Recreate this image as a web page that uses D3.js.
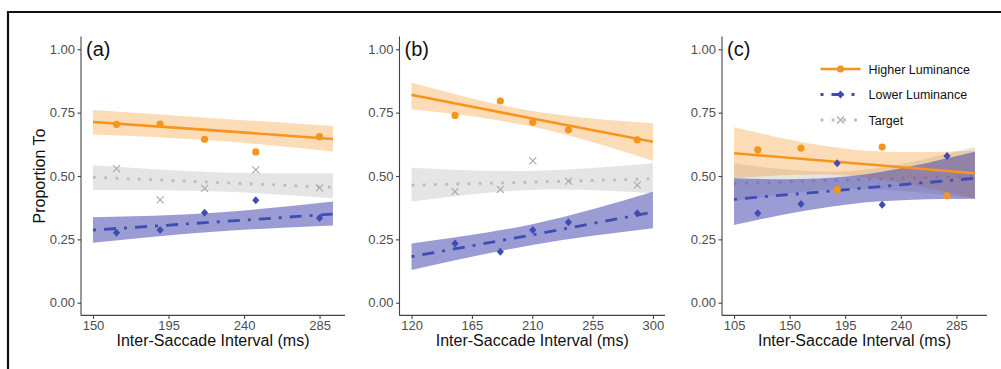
<!DOCTYPE html>
<html>
<head>
<meta charset="utf-8">
<script src="https://cdn.jsdelivr.net/npm/d3@7"></script>
<style>
  body { margin: 0; background: #fff; }
  svg { display: block; font-family: "Liberation Sans", Arial, Helvetica, sans-serif; }
</style>
</head>
<body>
<script>
//chart values
var panelLabels = ["(a)", "(b)", "(c)"];
var seriesNames = ["Higher Luminance", "Lower Luminance", "Target"];
var yTicks = [0, 0.25, 0.5, 0.75, 1];
var xTicksA = [150, 195, 240, 285],
    xTicksB = [120, 165, 210, 255, 300],
    xTicksC = [105, 150, 195, 240, 285];
var xRangeA = [150, 293],
    xRangeB = [120, 300],
    xRangeC = [105, 300];

//observed proportions
var ptsXA = [164, 190, 216.5, 247, 285];
var higherA = [0.704, 0.705, 0.645, 0.595, 0.655];
var lowerA = [0.276, 0.287, 0.355, 0.404, 0.334];
var targetA = [0.529, 0.406, 0.451, 0.524, 0.453];

var ptsXB = [152.4, 186.2, 210.4, 237, 288.3];
var higherB = [0.739, 0.796, 0.712, 0.682, 0.643];
var lowerB = [0.234, 0.201, 0.287, 0.318, 0.353];
var targetB = [0.438, 0.447, 0.560, 0.480, 0.464];

var ptsXC = [124.2, 159.2, 188.5, 224.9, 277.4];
var higherC = [0.603, 0.610, 0.447, 0.614, 0.422];
var lowerC = [0.353, 0.390, 0.550, 0.387, 0.579];
var targetC = [];

//fitted lines and confidence bands (start, middle, end)
var fitXA = [150, 222, 293];
var fitHigherA = [0.713, 0.680, 0.646], loHigherA = [0.664, 0.640, 0.597], hiHigherA = [0.760, 0.728, 0.697];
var fitLowerA = [0.287, 0.318, 0.350], loLowerA = [0.237, 0.280, 0.305], hiLowerA = [0.337, 0.355, 0.399];
var fitTargetA = [0.495, 0.475, 0.455], loTargetA = [0.445, 0.440, 0.412], hiTargetA = [0.542, 0.515, 0.511];

var fitXB = [120, 210, 300];
var fitHigherB = [0.820, 0.727, 0.635], loHigherB = [0.763, 0.695, 0.560], hiHigherB = [0.868, 0.756, 0.708];
var fitLowerB = [0.182, 0.268, 0.358], loLowerB = [0.129, 0.228, 0.294], hiLowerB = [0.234, 0.310, 0.438];
var fitTargetB = [0.464, 0.476, 0.489], loTargetB = [0.399, 0.445, 0.432], hiTargetB = [0.533, 0.520, 0.550];

var fitXC = [105, 200, 300];
var fitHigherC = [0.590, 0.551, 0.511], loHigherC = [0.490, 0.500, 0.410], hiHigherC = [0.692, 0.605, 0.600];
var fitLowerC = [0.408, 0.448, 0.491], loLowerC = [0.307, 0.390, 0.410], hiLowerC = [0.491, 0.500, 0.596];
var fitTargetC = [0.470, 0.485, 0.500], loTargetC = [0.400, 0.450, 0.410], hiTargetC = [0.550, 0.520, 0.615];

window.onload = drawChart();

function drawChart(){

    var width = 1001,
        height = 369;

    var svg = d3.select("body")
        .append("svg")
        .attr("width", width)
        .attr("height", height);

    svg.append("rect").attr("width", width).attr("height", height).attr("fill", "#fff");

    //frame lines at top and left
    svg.append("path")
        .attr("d", "M8,369V12H1001")
        .attr("fill", "none")
        .attr("stroke", "#111")
        .attr("stroke-width", 2.2);

    var colors = ["#f7941d", "#3d4db5", "#bdbdbd"],
        fills = ["#f7931e", "#3a3aaa", "#999999"],
        fillOpacity = [0.32, 0.5, 0.25],
        dashes = [null, "3,8,12,8", "2.8,8.4"],
        lineWidths = [2.6, 2.8, 2.8];

    var panels = [
        {label: panelLabels[0], left: 81, right: 345, range: xRangeA, ticks: xTicksA,
         px: ptsXA, pts: [higherA, lowerA, targetA], fx: fitXA,
         fit: [fitHigherA, fitLowerA, fitTargetA], lo: [loHigherA, loLowerA, loTargetA], hi: [hiHigherA, hiLowerA, hiTargetA]},
        {label: panelLabels[1], left: 399.5, right: 665, range: xRangeB, ticks: xTicksB,
         px: ptsXB, pts: [higherB, lowerB, targetB], fx: fitXB,
         fit: [fitHigherB, fitLowerB, fitTargetB], lo: [loHigherB, loLowerB, loTargetB], hi: [hiHigherB, hiLowerB, hiTargetB]},
        {label: panelLabels[2], left: 722, right: 987, range: xRangeC, ticks: xTicksC,
         px: ptsXC, pts: [higherC, lowerC, targetC], fx: fitXC,
         fit: [fitHigherC, fitLowerC, fitTargetC], lo: [loHigherC, loLowerC, loTargetC], hi: [hiHigherC, hiLowerC, hiTargetC]}
    ];

    var y = d3.scaleLinear().domain([-0.05, 1.05]).range([315.4, 36.6]);

    panels.forEach(function(p, pi){
        var span = p.range[1] - p.range[0];
        var x = d3.scaleLinear()
            .domain([p.range[0] - 0.05 * span, p.range[1] + 0.05 * span])
            .range([p.left, p.right]);

        var g = svg.append("g");

        //target band and line go first, the two luminance groups over it
        [2, 0, 1].forEach(function(s){
            var band = p.fx.map(function(d, i){ return {x: d, lo: p.lo[s][i], hi: p.hi[s][i], f: p.fit[s][i]}; });
            g.append("path")
                .datum(band)
                .attr("fill", fills[s])
                .attr("fill-opacity", fillOpacity[s])
                .attr("d", d3.area()
                    .curve(d3.curveNatural)
                    .x(function(d){ return x(d.x); })
                    .y0(function(d){ return y(d.lo); })
                    .y1(function(d){ return y(d.hi); }));
            if (s === 2) drawFit(g, band, x, s);
        });
        drawFit(g, p.fx.map(function(d, i){ return {x: d, f: p.fit[0][i]}; }), x, 0);
        drawFit(g, p.fx.map(function(d, i){ return {x: d, f: p.fit[1][i]}; }), x, 1);

        //observed points
        drawPoints(g, p.px, p.pts[0], x, y, 0);
        drawPoints(g, p.px, p.pts[1], x, y, 1);
        drawPoints(g, p.px, p.pts[2], x, y, 2);

        //axes
        var yAxis = svg.append("g")
            .attr("transform", "translate(" + p.left + ",0)")
            .call(d3.axisLeft(y).tickValues(yTicks).tickFormat(d3.format(".2f")).tickSize(3.5).tickPadding(2.5));
        var xAxis = svg.append("g")
            .attr("transform", "translate(0,315.4)")
            .call(d3.axisBottom(x).tickValues(p.ticks).tickSize(3.5).tickPadding(2));
        [yAxis, xAxis].forEach(function(a){
            a.select(".domain").attr("stroke", "#444").attr("stroke-width", 1.1).attr("d",
                a === yAxis ? "M0,36.6V315.4" : "M" + p.left + ",0H" + p.right);
            a.selectAll(".tick line").attr("stroke", "#444").attr("stroke-width", 1.1);
            a.selectAll(".tick text").attr("fill", "#4d4d4d").style("font-size", "13px").style("font-family", "Liberation Sans, Arial, sans-serif");
        });

        svg.append("text")
            .attr("x", (p.left + p.right) / 2)
            .attr("y", 346)
            .attr("text-anchor", "middle")
            .style("font-size", "16px")
            .attr("fill", "#111")
            .text("Inter-Saccade Interval (ms)");

        svg.append("text")
            .attr("x", p.left + 5)
            .attr("y", 55.5)
            .style("font-size", "20px")
            .attr("fill", "#111")
            .text(p.label);

        if (pi === 0){
            svg.append("text")
                .attr("transform", "translate(45," + (y(0.5)) + ") rotate(-90)")
                .attr("text-anchor", "middle")
                .style("font-size", "16px")
                .attr("fill", "#111")
                .text("Proportion To");
        }
    });

    //legend inside panel (c)
    var legend = svg.append("g").attr("transform", "translate(820.5,69)");
    seriesNames.forEach(function(name, s){
        var row = legend.append("g").attr("transform", "translate(0," + (s * 25.5) + ")");
        row.append("line")
            .attr("x1", 0).attr("x2", 40)
            .attr("stroke", colors[s])
            .attr("stroke-width", lineWidths[s])
            .attr("stroke-dasharray", dashes[s]);
        drawSymbol(row, 20, 0, s);
        row.append("text")
            .attr("x", 48)
            .attr("y", 4.5)
            .style("font-size", "12.5px")
            .attr("fill", "#111")
            .text(name);
    });

    function drawFit(g, band, x, s){
        g.append("path")
            .datum(band)
            .attr("fill", "none")
            .attr("stroke", colors[s])
            .attr("stroke-width", lineWidths[s])
            .attr("stroke-dasharray", dashes[s])
            .attr("d", d3.line()
                .curve(d3.curveNatural)
                .x(function(d){ return x(d.x); })
                .y(function(d){ return y(d.f); }));
    }

    function drawPoints(g, xs, ys, x, y, s){
        ys.forEach(function(v, i){
            drawSymbol(g, x(xs[i]), y(v), s);
        });
    }

    function drawSymbol(g, cx, cy, s){
        if (s === 0){
            g.append("circle").attr("cx", cx).attr("cy", cy).attr("r", 3.6).attr("fill", colors[0]);
        } else if (s === 1){
            g.append("path")
                .attr("transform", "translate(" + cx + "," + cy + ")")
                .attr("d", "M0,-4L3.6,0L0,4L-3.6,0Z")
                .attr("fill", colors[1]);
        } else {
            g.append("path")
                .attr("transform", "translate(" + cx + "," + cy + ")")
                .attr("d", "M-3.5,-3.5L3.5,3.5M-3.5,3.5L3.5,-3.5")
                .attr("stroke", "#a8a8a8")
                .attr("stroke-width", 1.1);
        }
    }
};
</script>
</body>
</html>
